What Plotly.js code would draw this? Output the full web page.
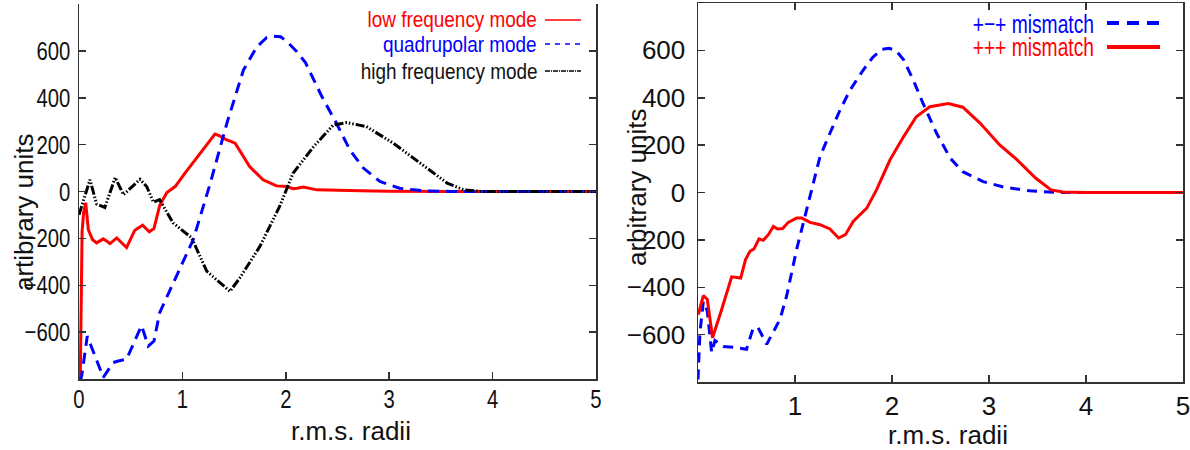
<!DOCTYPE html>
<html>
<head>
<meta charset="utf-8">
<script src="https://cdn.plot.ly/plotly-3.0.1.min.js"></script>
<style>
  html, body { margin: 0; padding: 0; background: #fff; }
  #chart { width: 1190px; height: 450px; }
</style>
</head>
<body>
<div id="chart"></div>
<script>
// ---------- Left panel data ----------
const leftNames = ["low frequency mode", "quadrupolar mode", "high frequency mode"];

const lowX = [0.012, 0.03, 0.045, 0.065, 0.09, 0.13, 0.17, 0.235, 0.30, 0.365, 0.46, 0.54, 0.615, 0.68, 0.725, 0.78, 0.85, 0.93, 1.025, 1.17, 1.315, 1.36, 1.43, 1.51, 1.65, 1.78, 1.91, 2.01, 2.07, 2.11, 2.17, 2.30, 2.5, 2.72, 3.0, 3.23, 3.6, 4.0, 4.5, 5.0];
const lowY = [-810, -170, -90, -48, -163, -205, -219, -202, -222, -198, -239, -165, -144, -172, -158, -60, -4, 21, 78, 163, 245, 237, 220, 206, 106, 50, 24, 21, 12, 14, 19, 7, 4, 3, 1, 0, 0, 0, 0, 0];

const quadX = [0.01, 0.026, 0.08, 0.14, 0.235, 0.33, 0.38, 0.46, 0.605, 0.67, 0.725, 0.78, 0.945, 1.105, 1.27, 1.43, 1.59, 1.72, 1.815, 1.88, 1.95, 2.01, 2.1, 2.19, 2.35, 2.49, 2.62, 2.75, 2.91, 3.10, 3.33, 3.6, 4.0, 4.5, 5.0];
const quadY = [-810, -787, -617, -687, -793, -730, -723, -716, -572, -660, -638, -517, -362, -205, 36, 291, 518, 617, 657, 663, 660, 640, 600, 550, 404, 291, 177, 100, 43, 14, 3, 0, 0, 0, 0];

const highX = [0, 0.058, 0.106, 0.17, 0.25, 0.35, 0.43, 0.59, 0.655, 0.72, 0.78, 0.91, 1.09, 1.235, 1.43, 1.46, 1.555, 1.75, 1.94, 2.07, 2.27, 2.46, 2.59, 2.78, 3.04, 3.30, 3.56, 3.72, 3.9, 4.2, 4.6, 5.0];
const highY = [-99, -21, 50, -53, -68, 60, -14, 52, 21, -46, -35, -134, -198, -340, -418, -426, -369, -234, -64, 78, 192, 284, 294, 277, 206, 121, 36, 7, 0, 0, 0, 0];

// ---------- Right panel data ----------
const rightNames = ["+\u2212+ mismatch", "+++ mismatch"];

const pmpX = [0.0, 0.02, 0.055, 0.096, 0.141, 0.175, 0.26, 0.40, 0.50, 0.57, 0.62, 0.708, 0.845, 0.914, 1.017, 1.155, 1.258, 1.36, 1.464, 1.567, 1.7, 1.8, 1.9, 1.97, 2.04, 2.12, 2.22, 2.32, 2.46, 2.60, 2.73, 2.94, 3.15, 3.42, 3.7, 4.0, 4.5, 5.0];
const pmpY = [-789, -592, -460, -501, -676, -625, -650, -655, -662, -571, -571, -641, -536, -436, -240, -17, 152, 250, 348, 432, 515, 570, 605, 609, 600, 560, 474, 376, 250, 145, 88, 46, 23, 7, 0, 0, 0, 0];

const pppX = [0.003, 0.055, 0.096, 0.15, 0.244, 0.347, 0.44, 0.49, 0.536, 0.577, 0.629, 0.673, 0.725, 0.777, 0.82, 0.873, 0.93, 1.017, 1.07, 1.155, 1.258, 1.36, 1.45, 1.52, 1.60, 1.74, 1.84, 1.98, 2.12, 2.25, 2.39, 2.58, 2.73, 2.91, 3.11, 3.29, 3.48, 3.64, 3.76, 4.0, 4.5, 5.0];
const pppY = [-515, -435, -452, -613, -494, -356, -361, -283, -248, -238, -196, -202, -178, -143, -154, -152, -126, -108, -108, -126, -136, -154, -192, -178, -122, -66, 11, 138, 236, 320, 362, 376, 360, 292, 201, 138, 61, 11, 2, 0, 0, 0];

// ---------- Ticks ----------
const leftXTicks = [0, 1, 2, 3, 4, 5];
const leftTopTicks = [0.5, 1, 1.5, 2, 2.5, 3, 3.5, 4, 4.5];
const rightXTicks = [1, 2, 3, 4, 5];
const yTicks = [-600, -400, -200, 0, 200, 400, 600];

const xTitle = "r.m.s. radii";
const leftYTitle = "artibrary units";
const rightYTitle = "arbitrary units";

// ---------- Styles ----------
const RED = "#ff0000", BLUE = "#0000ff", BLACK = "#000000";
const FONT = "Liberation Sans, Arial, Helvetica, sans-serif";
const W = 1190, H = 450;
const px = v => v / W;
const py = v => 1 - v / H;
const dashQ = "11px,7px";
const dashH = "9px,2px,1.5px,2px,1.5px,2px,1.5px,2px";

const traces = [
  {x: lowX, y: lowY, name: leftNames[0], xaxis: "x", yaxis: "y", mode: "lines",
   line: {color: RED, width: 3}},
  {x: quadX, y: quadY, name: leftNames[1], xaxis: "x", yaxis: "y", mode: "lines",
   line: {color: BLUE, width: 3, dash: dashQ}},
  {x: highX, y: highY, name: leftNames[2], xaxis: "x", yaxis: "y", mode: "lines",
   line: {color: BLACK, width: 3, dash: dashH}},
  {x: pmpX, y: pmpY, name: rightNames[0], xaxis: "x2", yaxis: "y2", mode: "lines",
   line: {color: BLUE, width: 3, dash: "10px,7px"}},
  {x: pppX, y: pppY, name: rightNames[1], xaxis: "x2", yaxis: "y2", mode: "lines",
   line: {color: RED, width: 3}}
];

const axisCommon = {
  showgrid: false, zeroline: false, showline: true, linecolor: "#333", linewidth: 1.5,
  ticks: "inside", ticklen: 7, tickwidth: 1.5, tickcolor: "#333",
  tickfont: {family: FONT, size: 26, color: "#111"}, ticklabeloverflow: "allow"
};

const layout = {
  width: W, height: H,
  margin: {l: 0, r: 0, t: 0, b: 0},
  paper_bgcolor: "#fff", plot_bgcolor: "#fff",
  showlegend: false,
  xaxis: Object.assign({}, axisCommon, {
    domain: [px(79), px(596)], range: [0, 5], anchor: "y",
    tickmode: "array", tickvals: leftXTicks, mirror: false, ticklabelstandoff: -4
  }),
  xaxis3: Object.assign({}, axisCommon, {
    overlaying: "x", side: "top", anchor: "y", range: [0, 5],
    tickmode: "array", tickvals: leftTopTicks, showticklabels: false
  }),
  yaxis: Object.assign({}, axisCommon, {
    domain: [1 - 379 / H, 1 - 4 / H], range: [-800, 800], anchor: "x",
    tickmode: "array", tickvals: yTicks, mirror: "ticks", ticklabelstandoff: 2
  }),
  xaxis2: Object.assign({}, axisCommon, {
    domain: [px(698), px(1183)], range: [0, 5], anchor: "y2",
    tickmode: "array", tickvals: rightXTicks, mirror: "ticks", ticklabelstandoff: 0
  }),
  yaxis2: Object.assign({}, axisCommon, {
    domain: [1 - 382 / H, 1 - 3 / H], range: [-800, 800], anchor: "x2",
    tickmode: "array", tickvals: yTicks, mirror: "ticks", ticklabelstandoff: 6
  }),
  annotations: [
    {text: xTitle, xref: "paper", yref: "paper", x: px(351), y: py(431), showarrow: false,
     font: {family: FONT, size: 26, color: "#111"}, xanchor: "center", yanchor: "middle"},
    {text: xTitle, xref: "paper", yref: "paper", x: px(948), y: py(435), showarrow: false,
     font: {family: FONT, size: 26, color: "#111"}, xanchor: "center", yanchor: "middle"},
    {text: leftYTitle, xref: "paper", yref: "paper", x: px(24), y: py(212), showarrow: false,
     textangle: -90, font: {family: FONT, size: 26, color: "#111"}, xanchor: "center", yanchor: "middle"},
    {text: rightYTitle, xref: "paper", yref: "paper", x: px(637), y: py(187), showarrow: false,
     textangle: -90, font: {family: FONT, size: 26, color: "#111"}, xanchor: "center", yanchor: "middle"},
    // legend texts (left)
    {text: leftNames[0], xref: "paper", yref: "paper", x: px(539), y: py(20), showarrow: false,
     font: {family: FONT, size: 22, color: RED}, xanchor: "right", yanchor: "middle"},
    {text: leftNames[1], xref: "paper", yref: "paper", x: px(539), y: py(45), showarrow: false,
     font: {family: FONT, size: 22, color: BLUE}, xanchor: "right", yanchor: "middle"},
    {text: leftNames[2], xref: "paper", yref: "paper", x: px(539), y: py(71), showarrow: false,
     font: {family: FONT, size: 22, color: "#111"}, xanchor: "right", yanchor: "middle"},
    // legend texts (right)
    {text: rightNames[0], xref: "paper", yref: "paper", x: px(1096), y: py(24), showarrow: false,
     font: {family: FONT, size: 26, color: BLUE}, xanchor: "right", yanchor: "middle"},
    {text: rightNames[1], xref: "paper", yref: "paper", x: px(1096), y: py(47), showarrow: false,
     font: {family: FONT, size: 26, color: RED}, xanchor: "right", yanchor: "middle"}
  ],
  shapes: [
    {type: "line", xref: "paper", yref: "paper", x0: px(545), x1: px(581), y0: py(20), y1: py(20),
     line: {color: RED, width: 1.5}},
    {type: "line", xref: "paper", yref: "paper", x0: px(545), x1: px(581), y0: py(44), y1: py(44),
     line: {color: BLUE, width: 1.5, dash: "5px,5px"}},
    {type: "line", xref: "paper", yref: "paper", x0: px(545), x1: px(581), y0: py(71), y1: py(71),
     line: {color: BLACK, width: 1.5, dash: "5px,1px,1px,1px"}},
    {type: "line", xref: "paper", yref: "paper", x0: px(1107), x1: px(1160), y0: py(23), y1: py(23),
     line: {color: BLUE, width: 4, dash: "12px,8px"}},
    {type: "line", xref: "paper", yref: "paper", x0: px(1107), x1: px(1160), y0: py(47), y1: py(47),
     line: {color: RED, width: 4}}
  ]
};

// horizontally condense glyphs (the reference uses a narrow face) while keeping real text.
// keepRight: keep the right edge fixed for middle-anchored text.
function condense(nodes, f, keepRight) {
  nodes.forEach(t => {
    const L = t.getComputedTextLength();
    if (L > 0) {
      t.setAttribute("textLength", (L * f).toFixed(2));
      t.setAttribute("lengthAdjust", "spacingAndGlyphs");
      if (keepRight) {
        const x0 = parseFloat(t.getAttribute("x")) || 0;
        t.setAttribute("x", (x0 + L * (1 - f) / 2).toFixed(2));
      }
    }
  });
}

Plotly.newPlot("chart", traces, layout, {staticPlot: true, displayModeBar: false}).then(gd => {
  condense(gd.querySelectorAll(".xtick text, .ytick text"), 0.78, false);
  const leg = [], legR = [];
  gd.querySelectorAll(".annotation").forEach(a => {
    const idx = +a.getAttribute("data-index");
    const t = a.querySelector("text");
    if (!t) return;
    if (idx >= 4 && idx <= 6) leg.push(t);
    if (idx >= 7) legR.push(t);
  });
  condense(leg, 0.86, true);
  condense(legR, 0.74, true);
});
</script>
</body>
</html>
